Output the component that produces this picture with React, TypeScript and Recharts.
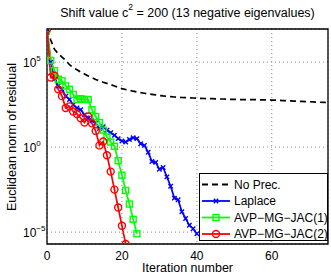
import { LineChart, Line, XAxis, YAxis, CartesianGrid, Legend, ReferenceArea } from 'recharts';

const FONT = '"Liberation Sans", Arial, Helvetica, sans-serif';

// residual norms, stored as log10 exponents
const NO_PREC = [
  6.95, 6.3, 5.75, 5.5, 5.3, 5.1, 4.85, 4.68, 4.55, 4.42,
  4.3, 4.18, 4.08, 3.98, 3.9, 3.82, 3.75, 3.68, 3.6, 3.52,
  3.44, 3.39, 3.34, 3.29, 3.25, 3.21, 3.17, 3.13, 3.1, 3.07,
  3.04, 3.01, 2.99, 2.97, 2.95, 2.93, 2.92, 2.91, 2.9, 2.89,
  2.88, 2.87, 2.86, 2.85, 2.85, 2.84, 2.83, 2.83, 2.82, 2.81,
  2.81, 2.8, 2.8, 2.8, 2.79, 2.79, 2.79, 2.78, 2.78, 2.78,
  2.77, 2.76, 2.75, 2.74, 2.73, 2.72, 2.71, 2.7, 2.69, 2.68,
  2.67, 2.66, 2.65, 2.64, 2.63, 2.62,
];
const LAPLACE = [
  6.95, 5.0, 4.0, 3.6, 3.4, 3.0, 2.8, 2.5, 2.3, 2.2,
  1.9, 1.7, 1.55, 1.4, 1.1, 1.2, 1.0, 0.85, 0.7, 0.5,
  0.36, 0.3, 0.45, 0.55, 0.5, 0.2, 0.1, -0.3, -0.85, -0.9,
  -1.3, -1.2, -1.75, -2.3, -3.0, -3.1, -3.8, -4.2, -4.6, -4.8,
  -5.1,
];
const JAC1 = [
  6.95, 5.1, 4.5, 4.0, 3.9, 3.6, 3.4, 3.1, 2.8, 2.85,
  2.8, 2.8, 2.2, 1.8, 1.45, 1.0, 0.6, 0.3, 0.05, -0.8,
  -1.65, -2.55, -3.35, -4.25, -5.1,
];
const JAC2 = [
  6.95, 4.1, 4.2, 3.4, 3.0, 2.3, 2.4, 2.1, 1.95, 1.7,
  1.45, 1.8, 1.4, 0.95, 0.1, 0.33, -0.48, -1.44, -2.5, -3.55,
  -4.63, -5.7,
];

const X_TICKS = [0, 20, 40, 60];
const Y_TICKS = [-5, 0, 5];
const X_MAX = 75;
const Y_MIN = -5.7;
const Y_MAX = 6.95;

const rows = NO_PREC.map((v, i) => ({
  it: i,
  noPrec: v,
  laplace: LAPLACE[i],
  jac1: JAC1[i],
  jac2: JAC2[i],
}));

const BLUE = '#0000ff';
const GREEN = '#00ff00';
const RED = '#ff0000';

function marker(kind: string, color: string, cx: number, cy: number, key?: string) {
  if (kind === 'x') {
    return (
      <path key={key} d={`M${cx - 2.2},${cy - 2.2}L${cx + 2.2},${cy + 2.2}M${cx - 2.2},${cy + 2.2}L${cx + 2.2},${cy - 2.2}`}
        stroke={color} strokeWidth={1.4} fill="none" />
    );
  }
  if (kind === 's') {
    return <rect key={key} x={cx - 3} y={cy - 3} width={6} height={6} stroke={color} strokeWidth={1.4} fill="none" />;
  }
  if (kind === 'o') {
    return <circle key={key} cx={cx} cy={cy} r={3.5} stroke={color} strokeWidth={1.4} fill="none" />;
  }
  return null;
}

const makeDot = (kind: string, color: string) => (p: any) => {
  const k = `${kind}-${p.index}`;
  if (p.cx == null || p.cy == null || p.value == null) return <g key={k} />;
  return marker(kind, color, p.cx, p.cy, k) as any;
};

const SERIES = [
  { key: 'noPrec', name: 'No Prec.', color: '#000', dash: '6 4', mark: '' },
  { key: 'laplace', name: 'Laplace', color: BLUE, dash: undefined, mark: 'x' },
  { key: 'jac1', name: 'AVP\u2212MG\u2212JAC(1)', color: GREEN, dash: undefined, mark: 's' },
  { key: 'jac2', name: 'AVP\u2212MG\u2212JAC(2)', color: RED, dash: undefined, mark: 'o' },
];

function YTick(props: any) {
  const { y, payload } = props;
  const e = payload.value;
  return (
    <text x={23} y={y + 5} fontSize={12} fill="#000" fontFamily={FONT}>
      10
      <tspan dy={-6} fontSize={8}>{e < 0 ? `\u2212${-e}` : e}</tspan>
    </text>
  );
}

function XTick(props: any) {
  const { x, payload } = props;
  return (
    <text x={x} y={259.5} fontSize={12} fill="#000" fontFamily={FONT} textAnchor="middle">
      {payload.value}
    </text>
  );
}

function LegendBox() {
  return (
    <svg width={129} height={68} style={{ display: 'block' }}>
      <rect x={0.5} y={0.5} width={128} height={67} fill="#fff" stroke="#000" strokeWidth={1} />
      {SERIES.map((s, i) => {
        const base = 15.5 + i * 16.5;
        const ly = base - 4;
        return (
          <g key={s.key}>
            <line x1={3} x2={31} y1={ly} y2={ly} stroke={s.color} strokeWidth={1.8} strokeDasharray={s.dash} />
            {marker(s.mark, s.color, 17, ly)}
            <text x={35} y={base} fontSize={12} fontFamily={FONT} fill="#000">{s.name}</text>
          </g>
        );
      })}
    </svg>
  );
}

export default function App() {
  return (
    <div style={{ position: 'absolute', left: 0, top: 0, width: 331, height: 274, background: '#fff', fontFamily: FONT }}>
      <div style={{ position: 'absolute', left: 47, width: 281, top: 5, textAlign: 'center', fontSize: 12.5, lineHeight: '16px', whiteSpace: 'nowrap' }}>
        Shift value c<sup style={{ fontSize: 8.5, verticalAlign: 'top', lineHeight: '8px', position: 'relative', top: -2 }}>2</sup> = 200 (13 negative eigenvalues)
      </div>
      <LineChart width={331} height={274} data={rows} margin={{ top: 29, right: 3, left: 0, bottom: 0 }}>
        <CartesianGrid stroke="#8a8a8a" strokeDasharray="1 3" strokeWidth={1} />
        <XAxis
          dataKey="it"
          type="number"
          domain={[0, X_MAX]}
          ticks={X_TICKS}
          allowDataOverflow
          height={30}
          tickLine={false}
          axisLine={false}
          tick={<XTick />}
          label={{
            content: () => (
              <text x={187.5} y={272} fontSize={12.5} fontFamily={FONT} textAnchor="middle" fill="#000">
                Iteration number
              </text>
            ),
          }}
        />
        <YAxis
          type="number"
          domain={[Y_MIN, Y_MAX]}
          ticks={Y_TICKS}
          allowDataOverflow
          width={47}
          tickLine={false}
          axisLine={false}
          tick={<YTick />}
          label={{
            content: () => (
              <text x={15.5} y={137} fontSize={12.5} fontFamily={FONT} textAnchor="middle" fill="#000"
                transform="rotate(-90 15.5 137)">
                Euclidean norm of residual
              </text>
            ),
          }}
        />
        {SERIES.map((s) => (
          <Line
            key={s.key}
            dataKey={s.key}
            name={s.name}
            stroke={s.color}
            strokeWidth={1.7}
            strokeDasharray={s.dash}
            dot={s.mark ? makeDot(s.mark, s.color) : false}
            activeDot={false}
            isAnimationActive={false}
            connectNulls={false}
          />
        ))}
        <ReferenceArea x1={0} x2={X_MAX} y1={Y_MIN} y2={Y_MAX} fill="none" stroke="#000" strokeWidth={1.3} ifOverflow="visible" />
        <Legend
          layout="vertical"
          align="center"
          verticalAlign="middle"
          content={() => <LegendBox />}
          wrapperStyle={{ position: 'absolute', left: 199, top: 173, width: 129, height: 68 }}
        />
      </LineChart>
    </div>
  );
}
